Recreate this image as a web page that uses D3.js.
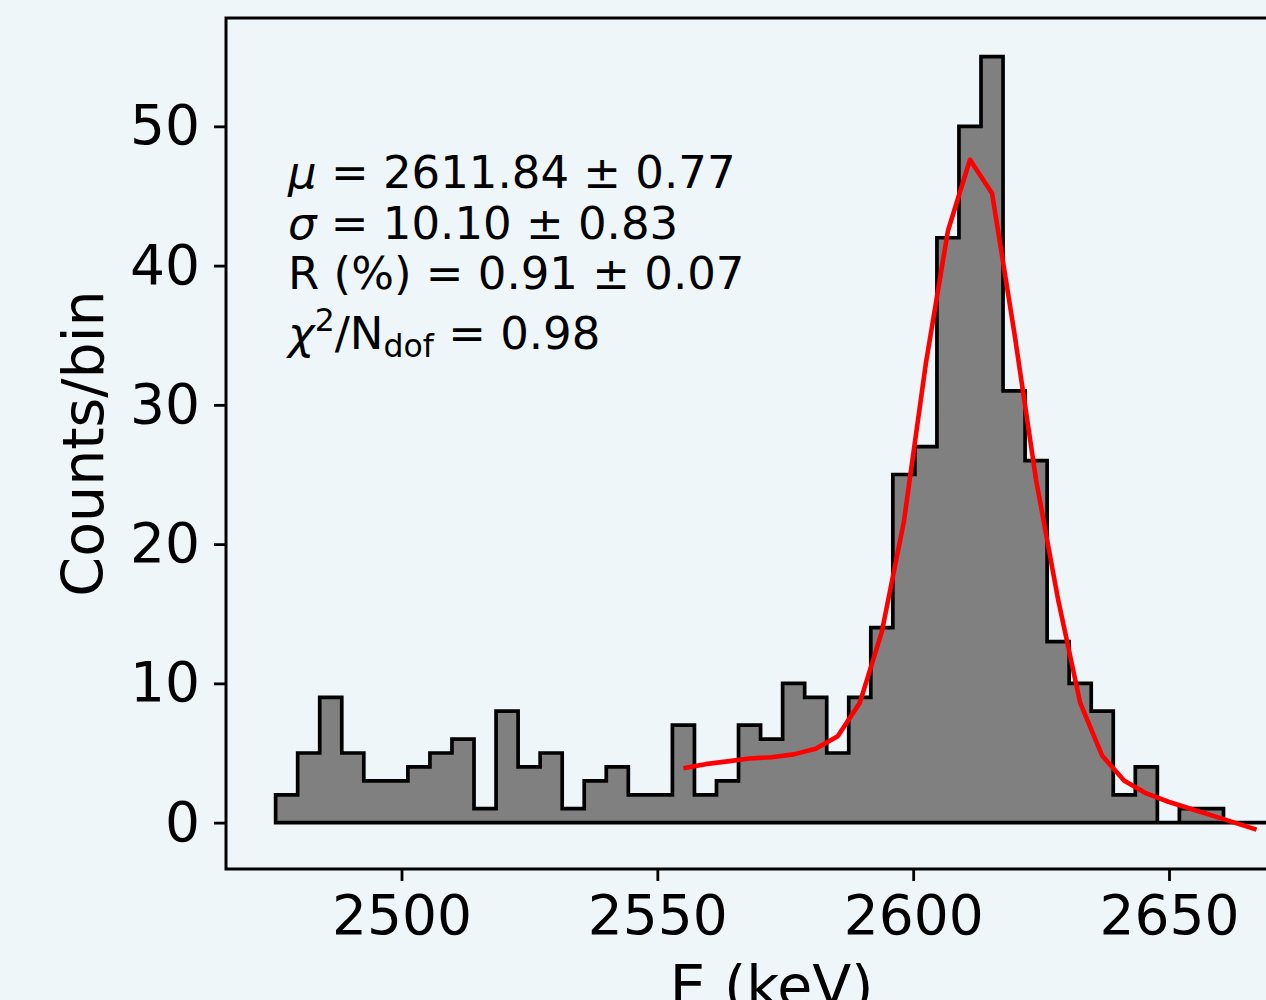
<!DOCTYPE html>
<html>
<head>
<meta charset="utf-8">
<script src="https://cdn.jsdelivr.net/npm/d3@7"></script>
<style>
  html, body { margin: 0; padding: 0; background: #eef6f9; }
  svg { display: block; }
  text { font-family: "DejaVu Sans", sans-serif; fill: #000; }
</style>
</head>
<body>
<svg id="chart" width="1266" height="1000"></svg>
<script>
// ---- data ----
const binStart = 2475.4;   // keV, left edge of first bin
const binWidth = 4.308;    // keV
const counts = [2,5,9,5,3,3,4,5,6,1,8,4,5,1,3,4,2,2,7,2,3,7,6,10,9,5,9,14,25,27,42,50,55,31,26,13,10,8,2,4,0,1,1,0,0];
const fitFirstBin = 18;    // fit evaluated at bin centres starting at this bin
const fitValues = [3.9,4.2,4.4,4.6,4.7,4.9,5.3,6.2,8.6,13.7,21.6,33.0,42.5,47.6,45.2,35.3,24.6,16.0,8.6,4.8,3.0,2.1,1.5,1.0,0.5,0.0,-0.5];
const xTicks = [2500, 2550, 2600, 2650];
const yTicks = [0, 10, 20, 30, 40, 50];
const xDomain = [2465.7, 2679.0];
const yDomain = [-3.33, 57.78];

(function () {
// ---- layout ----
const svg = d3.select("#chart");
const pL = 226, pR = 1317.4, pT = 18, pB = 869;
const bg = "#eef6f9";

svg.append("rect").attr("width", 1266).attr("height", 1000).attr("fill", bg);

const x = d3.scaleLinear().domain(xDomain).range([pL, pR]);
const y = d3.scaleLinear().domain(yDomain).range([pB, pT]);

svg.append("defs").append("clipPath").attr("id", "clip")
  .append("rect").attr("x", pL).attr("y", pT).attr("width", pR - pL).attr("height", pB - pT);

const plot = svg.append("g").attr("clip-path", "url(#clip)");

// histogram outline points
const edges = d3.range(counts.length + 1).map(i => binStart + i * binWidth);
const pts = [[edges[0], 0]];
counts.forEach((c, i) => { pts.push([edges[i], c]); pts.push([edges[i + 1], c]); });
pts.push([edges[counts.length], 0]);

const line = d3.line().x(d => x(d[0])).y(d => y(d[1]));

plot.append("path")
  .attr("d", line(pts) + "Z")
  .attr("fill", "#808080")
  .attr("stroke", "#000")
  .attr("stroke-width", 3.7)
  .attr("stroke-linejoin", "miter");

// fit curve
const fitPts = fitValues.map((v, k) => [binStart + (fitFirstBin + k + 0.5) * binWidth, v]);
plot.append("path")
  .attr("d", line(fitPts))
  .attr("fill", "none")
  .attr("stroke", "#ff0000")
  .attr("stroke-width", 4.6)
  .attr("stroke-linejoin", "round");

// axes
const fs = 55;
const xAxis = d3.axisBottom(x).tickValues(xTicks).tickSize(12).tickPadding(14).tickFormat(d3.format("d"));
const gx = svg.append("g").attr("transform", `translate(0,${pB})`).call(xAxis);
gx.select(".domain").remove();
gx.selectAll(".tick line").attr("stroke", "#000").attr("stroke-width", 2.8);
gx.selectAll(".tick text").attr("font-size", fs).attr("font-family", "DejaVu Sans").attr("fill", "#000");

const yAxis = d3.axisLeft(y).tickValues(yTicks).tickSize(12).tickPadding(14).tickFormat(d3.format("d"));
const gy = svg.append("g").attr("transform", `translate(${pL},0)`).call(yAxis);
gy.select(".domain").remove();
gy.selectAll(".tick line").attr("stroke", "#000").attr("stroke-width", 2.8);
gy.selectAll(".tick text").attr("font-size", fs).attr("font-family", "DejaVu Sans").attr("fill", "#000");

// spines
svg.append("rect")
  .attr("x", pL).attr("y", pT).attr("width", pR - pL).attr("height", pB - pT)
  .attr("fill", "none").attr("stroke", "#000").attr("stroke-width", 3);

// labels
svg.append("text")
  .attr("transform", `translate(103,${(pT + pB) / 2}) rotate(-90)`)
  .attr("text-anchor", "middle")
  .attr("font-size", 57)
  .text("Counts/bin");

svg.append("text")
  .attr("x", (pL + pR) / 2).attr("y", 1006)
  .attr("text-anchor", "middle")
  .attr("font-size", 57)
  .text("E (keV)");

// annotation
const tfs = 45;
const ann = svg.append("g").attr("font-size", tfs);
const t1 = ann.append("text").attr("x", 288).attr("y", 188);
t1.append("tspan").attr("font-style", "italic").text("μ");
t1.append("tspan").text(" = 2611.84 ± 0.77");
const t2 = ann.append("text").attr("x", 288).attr("y", 239);
t2.append("tspan").attr("font-style", "italic").text("σ");
t2.append("tspan").text(" = 10.10 ± 0.83");
ann.append("text").attr("x", 288).attr("y", 289).text("R (%) = 0.91 ± 0.07");
const t4 = ann.append("text").attr("x", 288).attr("y", 349);
t4.append("tspan").attr("font-style", "italic").text("χ");
t4.append("tspan").attr("font-size", tfs * 0.7).attr("dy", -18).text("2");
t4.append("tspan").attr("dy", 18).text("/N");
t4.append("tspan").attr("font-size", tfs * 0.7).attr("dy", 8).text("dof");
t4.append("tspan").attr("dy", -8).text(" = 0.98");
})();
</script>
</body>
</html>
